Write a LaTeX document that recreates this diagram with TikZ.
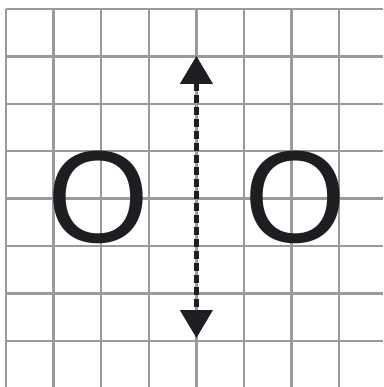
\documentclass[tikz,border=0pt]{standalone}
\usepackage{fontspec}
\setmainfont{Liberation Sans}
\usetikzlibrary{arrows.meta}
\definecolor{gridgray}{HTML}{9A9A9A}
\definecolor{ink}{HTML}{1E1E22}
\begin{document}
\begin{tikzpicture}[x=1pt,y=-1pt,
  gridline/.style={draw=gridgray,line width=2.4pt},
  letter/.style={text=ink,font=\fontsize{131}{131}\selectfont,inner sep=0pt},
  dasharrow/.style={draw=ink,line width=4.5pt,dash pattern=on 8pt off 4pt,
    {Triangle[width=32pt,length=28pt]}-{Triangle[width=32pt,length=28pt]}}]
\useasboundingbox[fill=white] (0,0) rectangle (383,387);
\foreach \k in {0,...,7}{
  \draw[gridline] ({6+47.6*\k},9) -- ({6+47.6*\k},387);
  \draw[gridline] (6,{9+47.4*\k}) -- (383,{9+47.4*\k});
}
\node[letter] (o1) at (98,197.5) {O};
\node[letter] (o2) at (295,197.5) {O};
\coordinate (top) at (196.4,56);
\coordinate (bot) at (196.4,338);
\draw[dasharrow] (top) -- (bot);
\end{tikzpicture}
\end{document}
